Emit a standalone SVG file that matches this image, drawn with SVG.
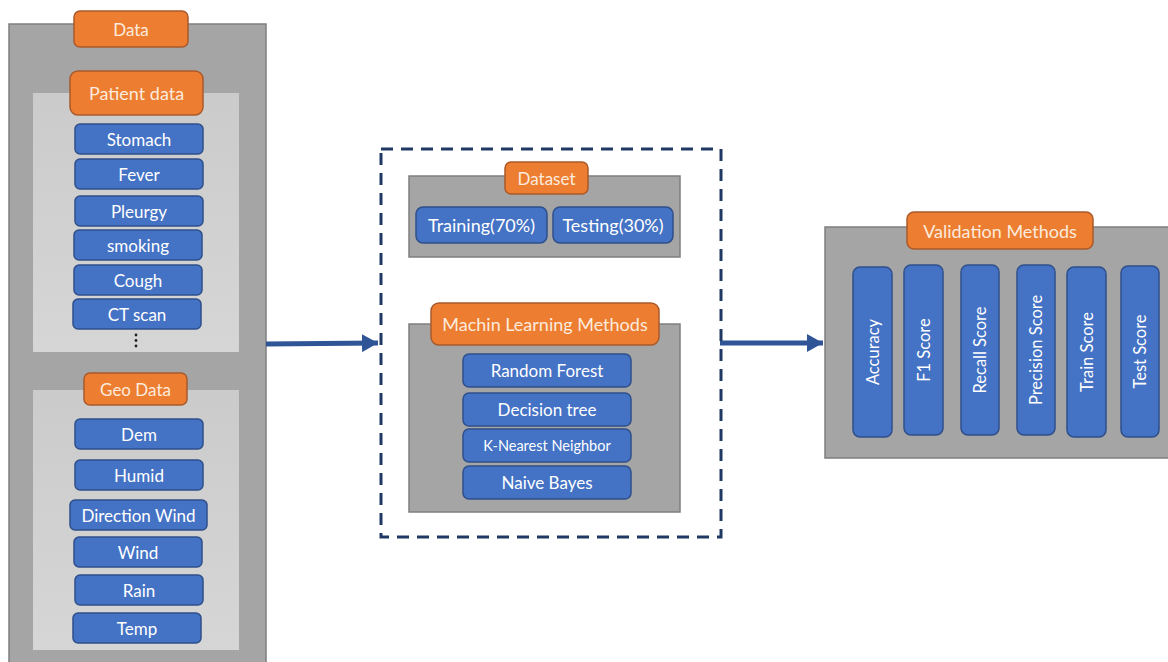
<svg xmlns="http://www.w3.org/2000/svg" width="1168" height="662" viewBox="0 0 1168 662">
<defs>
<style>
.panel{fill:#A5A5A5;stroke:#7F7F7F;stroke-width:1.5}
.org{fill:#ED7D31;stroke:#A9592A;stroke-width:1.5}
.blu{fill:#4472C4;stroke:#2F4F8A;stroke-width:1.5}
text{font-family:Lato,"Open Sans","Liberation Sans",sans-serif;text-anchor:middle;dominant-baseline:central}
.wt{fill:#FFFFFF;font-size:17px}
.ot{fill:#FCEBDD;font-size:17px}
.vt{fill:#FFFFFF;font-size:16.5px}
.conn{stroke:#2F5597;stroke-width:5;fill:none}
</style>
<linearGradient id="lg" x1="0" y1="0" x2="0" y2="1">
<stop offset="0" stop-color="#CBCBCB"/>
<stop offset="1" stop-color="#D6D6D6"/>
</linearGradient>
<marker id="ah" markerWidth="16" markerHeight="18" refX="16" refY="9" orient="auto" markerUnits="userSpaceOnUse">
<path d="M0,0 L16,9 L0,18 Z" fill="#2F5597"/>
</marker>
</defs>
<rect width="1168" height="662" fill="#FFFFFF"/>

<g id="data-panel">
<rect class="panel" x="9" y="24" width="257" height="645"/>
</g>
<g id="data-label">
<rect class="org" x="74" y="11" width="114" height="36" rx="6"/>
<text class="ot" x="131" y="29">Data</text>
</g>

<g id="patient-panel">
<rect x="33" y="93" width="206" height="259" fill="url(#lg)"/>
</g>
<g id="patient-label">
<rect class="org" x="70" y="71" width="133" height="44" rx="8"/>
<text class="ot" x="136.5" y="93" style="font-size:18px">Patient data</text>
</g>
<g id="stomach"><rect class="blu" x="75" y="124" width="128" height="30" rx="5"/><text class="wt" x="139" y="139">Stomach</text></g>
<g id="fever"><rect class="blu" x="75" y="159" width="128" height="30" rx="5"/><text class="wt" x="139" y="174">Fever</text></g>
<g id="pleurgy"><rect class="blu" x="75" y="196" width="128" height="30" rx="5"/><text class="wt" x="139" y="211">Pleurgy</text></g>
<g id="smoking"><rect class="blu" x="74" y="230" width="128" height="30" rx="5"/><text class="wt" x="138" y="245">smoking</text></g>
<g id="cough"><rect class="blu" x="74" y="265" width="128" height="30" rx="5"/><text class="wt" x="138" y="280">Cough</text></g>
<g id="ctscan"><rect class="blu" x="73" y="299" width="128" height="30" rx="5"/><text class="wt" x="137" y="314">CT scan</text></g>
<g id="ellipsis">
<circle cx="136" cy="335" r="1.4" fill="#222"/>
<circle cx="136" cy="340.5" r="1.4" fill="#222"/>
<circle cx="136" cy="346" r="1.4" fill="#222"/>
</g>

<g id="geo-panel">
<rect x="33" y="390" width="206" height="260" fill="url(#lg)"/>
</g>
<g id="geo-label">
<rect class="org" x="84" y="373" width="103" height="32" rx="6"/>
<text class="ot" x="135.5" y="389">Geo Data</text>
</g>
<g id="dem"><rect class="blu" x="75" y="419" width="128" height="30" rx="5"/><text class="wt" x="139" y="434">Dem</text></g>
<g id="humid"><rect class="blu" x="75" y="460" width="128" height="30" rx="5"/><text class="wt" x="139" y="475">Humid</text></g>
<g id="direction-wind"><rect class="blu" x="70" y="500" width="137" height="30" rx="5"/><text class="wt" x="138.5" y="515">Direction Wind</text></g>
<g id="wind"><rect class="blu" x="74" y="537" width="128" height="30" rx="5"/><text class="wt" x="138" y="552">Wind</text></g>
<g id="rain"><rect class="blu" x="75" y="575" width="128" height="30" rx="5"/><text class="wt" x="139" y="590">Rain</text></g>
<g id="temp"><rect class="blu" x="73" y="613" width="128" height="30" rx="5"/><text class="wt" x="137" y="628">Temp</text></g>

<g id="connectors">
<line class="conn" x1="266" y1="344" x2="378" y2="343" marker-end="url(#ah)"/>
<line class="conn" x1="720" y1="343" x2="823" y2="343" marker-end="url(#ah)"/>
</g>

<g id="model-box">
<rect x="381" y="149" width="340" height="388" fill="none" stroke="#1F3864" stroke-width="3" stroke-dasharray="12,8"/>
</g>

<g id="dataset-panel">
<rect class="panel" x="409" y="176" width="271" height="81"/>
</g>
<g id="dataset-label">
<rect class="org" x="505" y="162" width="83" height="32" rx="6"/>
<text class="ot" x="546.5" y="178">Dataset</text>
</g>
<g id="training"><rect class="blu" x="416" y="207" width="131" height="36" rx="7"/><text class="wt" x="481.5" y="225" style="font-size:18px">Training(70%)</text></g>
<g id="testing"><rect class="blu" x="553" y="207" width="120" height="36" rx="7"/><text class="wt" x="613" y="225" style="font-size:18px">Testing(30%)</text></g>

<g id="ml-panel">
<rect class="panel" x="409" y="324" width="271" height="188"/>
</g>
<g id="ml-label">
<rect class="org" x="431" y="303" width="228" height="42" rx="8"/>
<text class="ot" x="545" y="324" style="font-size:18px">Machin Learning Methods</text>
</g>
<g id="random-forest"><rect class="blu" x="463" y="354" width="168" height="33" rx="6"/><text class="wt" x="547" y="370.5">Random Forest</text></g>
<g id="decision-tree"><rect class="blu" x="463" y="393" width="168" height="33" rx="6"/><text class="wt" x="547" y="409.5">Decision tree</text></g>
<g id="knn"><rect class="blu" x="463" y="429" width="168" height="33" rx="6"/><text class="wt" x="547" y="445.5" style="font-size:14.5px">K-Nearest Neighbor</text></g>
<g id="naive-bayes"><rect class="blu" x="463" y="466" width="168" height="33" rx="6"/><text class="wt" x="547" y="482.5">Naive Bayes</text></g>

<g id="validation-panel">
<rect class="panel" x="825" y="227" width="350" height="231"/>
</g>
<g id="validation-label">
<rect class="org" x="907" y="212" width="186" height="37" rx="7"/>
<text class="ot" x="1000" y="230.5" style="font-size:18px">Validation Methods</text>
</g>
<g id="accuracy"><rect class="blu" x="853" y="267" width="39" height="170" rx="7"/><text class="vt" transform="translate(872.5,352) rotate(-90)">Accuracy</text></g>
<g id="f1"><rect class="blu" x="904" y="265" width="39" height="170" rx="7"/><text class="vt" transform="translate(923.5,350) rotate(-90)">F1 Score</text></g>
<g id="recall"><rect class="blu" x="961" y="265" width="38" height="170" rx="7"/><text class="vt" transform="translate(980,350) rotate(-90)">Recall Score</text></g>
<g id="precision"><rect class="blu" x="1017" y="265" width="38" height="170" rx="7"/><text class="vt" transform="translate(1036,350) rotate(-90)">Precision Score</text></g>
<g id="train-score"><rect class="blu" x="1067" y="267" width="39" height="170" rx="7"/><text class="vt" transform="translate(1086.5,352) rotate(-90)">Train Score</text></g>
<g id="test-score"><rect class="blu" x="1121" y="266" width="38" height="171" rx="7"/><text class="vt" transform="translate(1140,351.5) rotate(-90)">Test Score</text></g>
</svg>
